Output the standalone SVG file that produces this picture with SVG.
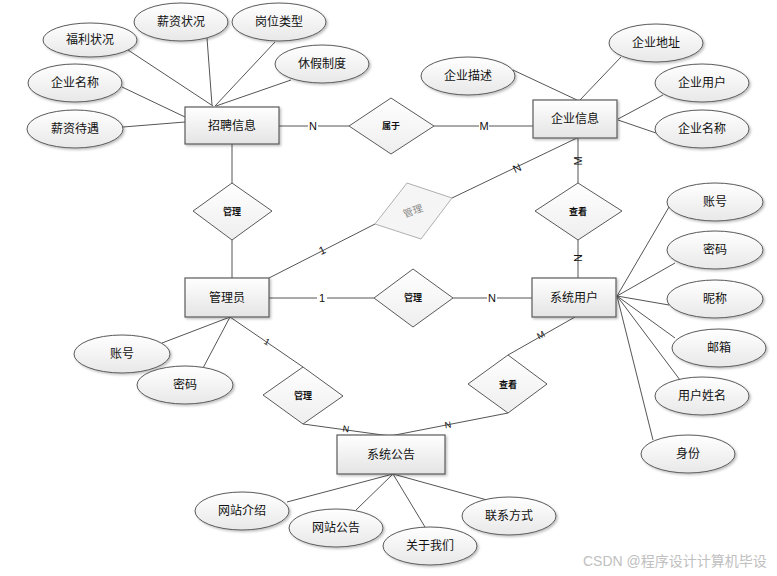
<svg xmlns="http://www.w3.org/2000/svg" width="777" height="576" viewBox="0 0 777 576">
<defs>
<linearGradient id="gEnt" x1="0" y1="0" x2="0" y2="1"><stop offset="0" stop-color="#ffffff"/><stop offset="1" stop-color="#e4e4e4"/></linearGradient>
<linearGradient id="gEll" x1="0" y1="0" x2="0" y2="1"><stop offset="0" stop-color="#ffffff"/><stop offset="1" stop-color="#e8e8e8"/></linearGradient>
<linearGradient id="gDia" x1="0" y1="0" x2="0" y2="1"><stop offset="0" stop-color="#ffffff"/><stop offset="1" stop-color="#eeeeee"/></linearGradient>
<filter id="sh" x="-10%" y="-10%" width="130%" height="140%"><feDropShadow dx="1.5" dy="1.5" stdDeviation="0.8" flood-color="#000" flood-opacity="0.25"/></filter>
<style>
.ent{fill:url(#gEnt);stroke:#5a5a5a;stroke-width:1.2;filter:url(#sh)}
.ell{fill:url(#gEll);stroke:#5a5a5a;stroke-width:1;filter:url(#sh)}
.dia{fill:url(#gDia);stroke:#5a5a5a;stroke-width:1}
.dia2{fill:#f5f5f5;stroke:#b0b0b0;stroke-width:1}
text{font-family:"Liberation Sans","Noto Sans CJK SC",sans-serif;text-anchor:middle;dominant-baseline:central;fill:#111}
.t{font-size:12px}
.d{font-size:9px;font-weight:bold}
.d2{font-size:10px;fill:#888}
.lb{font-size:11px}
.ls{font-size:9px}
.wm{font-size:14px;fill:#c0c0c0;text-anchor:start}
.ln{stroke:#555;stroke-width:1;fill:none}
</style>
</defs>
<rect width="777" height="576" fill="#fff"/>
<g id="connectors">
<line class="ln" x1="128" y1="50" x2="213" y2="106"/>
<line class="ln" x1="207" y1="38" x2="212" y2="105"/>
<line class="ln" x1="275" y1="42" x2="215" y2="106"/>
<line class="ln" x1="291" y1="80" x2="216" y2="106"/>
<line class="ln" x1="122" y1="87" x2="185" y2="117"/>
<line class="ln" x1="123" y1="127" x2="185" y2="122"/>
<line class="ln" x1="513" y1="70" x2="577" y2="100"/>
<line class="ln" x1="621" y1="57" x2="580" y2="100"/>
<line class="ln" x1="663" y1="95" x2="618" y2="119"/>
<line class="ln" x1="656" y1="133" x2="618" y2="120"/>
<line class="ln" x1="279" y1="126" x2="349" y2="126"/>
<line class="ln" x1="434" y1="126" x2="533" y2="126"/>
<line class="ln" x1="232" y1="144" x2="232" y2="183"/>
<line class="ln" x1="232" y1="240" x2="232" y2="278"/>
<line class="ln" x1="269" y1="278" x2="375" y2="224"/>
<line class="ln" x1="452" y1="198" x2="577" y2="138"/>
<line class="ln" x1="578" y1="138" x2="578" y2="183"/>
<line class="ln" x1="578" y1="240" x2="578" y2="278"/>
<line class="ln" x1="269" y1="298" x2="374" y2="298"/>
<line class="ln" x1="453" y1="298" x2="532" y2="298"/>
<line class="ln" x1="617" y1="296" x2="669" y2="207"/>
<line class="ln" x1="617" y1="296" x2="675" y2="263"/>
<line class="ln" x1="617" y1="296" x2="669" y2="305"/>
<line class="ln" x1="617" y1="296" x2="675" y2="338"/>
<line class="ln" x1="617" y1="296" x2="680" y2="380"/>
<line class="ln" x1="617" y1="296" x2="653" y2="440"/>
<line class="ln" x1="230" y1="317" x2="162" y2="343"/>
<line class="ln" x1="230" y1="317" x2="203" y2="368"/>
<line class="ln" x1="230" y1="317" x2="303" y2="367"/>
<line class="ln" x1="303" y1="424" x2="390" y2="436"/>
<line class="ln" x1="575" y1="317" x2="508" y2="355"/>
<line class="ln" x1="508" y1="413" x2="390" y2="436"/>
<line class="ln" x1="393" y1="474" x2="287" y2="502"/>
<line class="ln" x1="393" y1="474" x2="356" y2="510"/>
<line class="ln" x1="393" y1="474" x2="425" y2="527"/>
<line class="ln" x1="393" y1="474" x2="487" y2="500"/>
<rect x="308" y="120" width="10" height="12" fill="#fff"/><text class="lb" x="313" y="126">N</text>
<rect x="479" y="120" width="10" height="12" fill="#fff"/><text class="lb" x="484" y="126">M</text>
<text class="lb" x="578" y="161" transform="rotate(-90 578 161)">M</text>
<text class="lb" x="578" y="258" transform="rotate(-90 578 258)">N</text>
<text class="lb" x="517" y="168" transform="rotate(-25 517 168)">N</text>
<text class="lb" x="322" y="250" transform="rotate(-25 322 250)">1</text>
<rect x="317" y="292" width="10" height="12" fill="#fff"/><text class="lb" x="322" y="298">1</text>
<rect x="487" y="292" width="10" height="12" fill="#fff"/><text class="lb" x="492" y="298">N</text>
<text class="ls" x="267" y="342" transform="rotate(30 267 342)">1</text>
<text class="ls" x="346" y="429" transform="rotate(8 346 429)">N</text>
<text class="ls" x="448" y="425" transform="rotate(-10 448 425)">N</text>
<text class="ls" x="541" y="335" transform="rotate(-28 541 335)">M</text>
</g>
<g id="n-zhaopin"><rect class="ent" x="185" y="107" width="94" height="37"/><text class="t" x="232" y="126">招聘信息</text></g>
<g id="n-qiye"><rect class="ent" x="533" y="100" width="84" height="38"/><text class="t" x="575" y="119">企业信息</text></g>
<g id="n-admin"><rect class="ent" x="185" y="278" width="84" height="39"/><text class="t" x="227" y="298">管理员</text></g>
<g id="n-user"><rect class="ent" x="532" y="278" width="84" height="39"/><text class="t" x="574" y="298">系统用户</text></g>
<g id="n-notice"><rect class="ent" x="337" y="435" width="108" height="39"/><text class="t" x="391" y="455">系统公告</text></g>
<g id="r-shuyu"><polygon class="dia" points="349,126 391,98 434,126 391,154"/><text class="d" x="391" y="126">属于</text></g>
<g id="r-guanli1"><polygon class="dia" points="193,211 232,183 272,211 232,240"/><text class="d" x="232" y="212">管理</text></g>
<g id="r-guanli2"><polygon class="dia2" points="375,224 407,183 452,198 421,239"/><text class="d2" x="413" y="211" transform="rotate(-20 413 211)">管理</text></g>
<g id="r-guanli3"><polygon class="dia" points="374,298 413,269 453,298 413,327"/><text class="d" x="413" y="298">管理</text></g>
<g id="r-chakan1"><polygon class="dia" points="535,211 578,183 622,211 578,240"/><text class="d" x="578" y="212">查看</text></g>
<g id="r-guanli4"><polygon class="dia" points="263,395 303,367 343,396 303,424"/><text class="d" x="303" y="396">管理</text></g>
<g id="r-chakan2"><polygon class="dia" points="468,384 508,355 547,384 508,413"/><text class="d" x="508" y="385">查看</text></g>
<g id="a-fuli"><ellipse class="ell" cx="90" cy="40" rx="47" ry="17"/><text class="t" x="90" y="40">福利状况</text></g>
<g id="a-xinzi"><ellipse class="ell" cx="181" cy="22" rx="47" ry="19"/><text class="t" x="181" y="22">薪资状况</text></g>
<g id="a-gangwei"><ellipse class="ell" cx="279" cy="22" rx="47" ry="19"/><text class="t" x="279" y="22">岗位类型</text></g>
<g id="a-xiujia"><ellipse class="ell" cx="322" cy="64" rx="47" ry="19"/><text class="t" x="322" y="64">休假制度</text></g>
<g id="a-qymc1"><ellipse class="ell" cx="75" cy="83" rx="47" ry="19"/><text class="t" x="75" y="83">企业名称</text></g>
<g id="a-xzdy"><ellipse class="ell" cx="75" cy="129" rx="48" ry="19"/><text class="t" x="75" y="129">薪资待遇</text></g>
<g id="a-qydz"><ellipse class="ell" cx="656" cy="43" rx="47" ry="19"/><text class="t" x="656" y="43">企业地址</text></g>
<g id="a-qyms"><ellipse class="ell" cx="468" cy="76" rx="47" ry="19"/><text class="t" x="468" y="76">企业描述</text></g>
<g id="a-qyyh"><ellipse class="ell" cx="702" cy="83" rx="47" ry="19"/><text class="t" x="702" y="83">企业用户</text></g>
<g id="a-qymc2"><ellipse class="ell" cx="702" cy="129" rx="47" ry="19"/><text class="t" x="702" y="129">企业名称</text></g>
<g id="a-zh1"><ellipse class="ell" cx="715" cy="202" rx="48" ry="19"/><text class="t" x="715" y="202">账号</text></g>
<g id="a-mm1"><ellipse class="ell" cx="715" cy="250" rx="48" ry="19"/><text class="t" x="715" y="250">密码</text></g>
<g id="a-nc"><ellipse class="ell" cx="715" cy="299" rx="48" ry="19"/><text class="t" x="715" y="299">昵称</text></g>
<g id="a-yx"><ellipse class="ell" cx="719" cy="348" rx="47" ry="19"/><text class="t" x="719" y="348">邮箱</text></g>
<g id="a-yhxm"><ellipse class="ell" cx="702" cy="396" rx="47" ry="19"/><text class="t" x="702" y="396">用户姓名</text></g>
<g id="a-sf"><ellipse class="ell" cx="688" cy="454" rx="47" ry="19"/><text class="t" x="688" y="454">身份</text></g>
<g id="a-zh2"><ellipse class="ell" cx="122" cy="354" rx="48" ry="19"/><text class="t" x="122" y="354">账号</text></g>
<g id="a-mm2"><ellipse class="ell" cx="185" cy="385" rx="48" ry="19"/><text class="t" x="185" y="385">密码</text></g>
<g id="a-wzjs"><ellipse class="ell" cx="242" cy="511" rx="47" ry="19"/><text class="t" x="242" y="511">网站介绍</text></g>
<g id="a-wzgg"><ellipse class="ell" cx="336" cy="528" rx="47" ry="19"/><text class="t" x="336" y="528">网站公告</text></g>
<g id="a-gywm"><ellipse class="ell" cx="430" cy="546" rx="47" ry="19"/><text class="t" x="430" y="546">关于我们</text></g>
<g id="a-lxfs"><ellipse class="ell" cx="509" cy="516" rx="47" ry="19"/><text class="t" x="509" y="516">联系方式</text></g>
<text class="wm" x="583" y="561">CSDN @程序设计计算机毕设</text>
</svg>
